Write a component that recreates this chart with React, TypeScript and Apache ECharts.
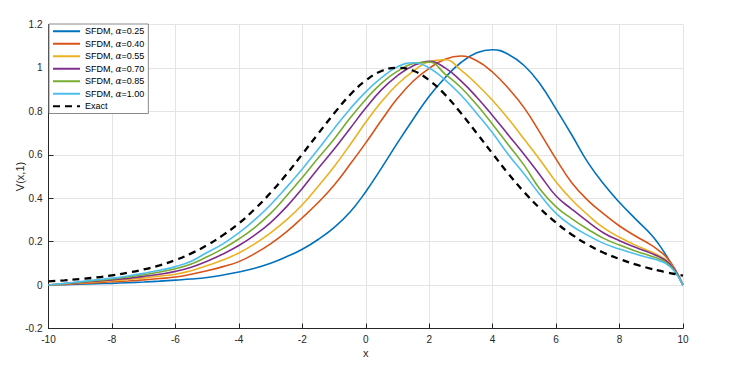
import { useEffect, useRef } from "react";
import * as echarts from "echarts";

const X = [
  -10, -9.5, -9, -8.5, -8, -7.5, -7, -6.5, -6, -5.5, -5, -4.5, -4, -3.5, -3, -2.5, -2, -1.5, -1, -0.5,
  0, 0.5, 1, 1.5, 2, 2.5, 3, 3.5, 4, 4.5, 5, 5.5, 6, 6.5, 7, 7.5, 8, 8.5, 9, 9.25, 9.5, 9.75, 10,
];

const A025 = [
  0, 0.002, 0.004, 0.006, 0.008, 0.011, 0.014, 0.018, 0.023, 0.028, 0.035, 0.046, 0.06, 0.077, 0.1, 0.13,
  0.165, 0.21, 0.265, 0.335, 0.43, 0.54, 0.655, 0.765, 0.87, 0.955, 1.025, 1.07, 1.084, 1.062, 1.01, 0.925,
  0.81, 0.69, 0.565, 0.465, 0.38, 0.305, 0.232, 0.185, 0.13, 0.068, 0,
];
const A040 = [
  0, 0.003, 0.007, 0.011, 0.015, 0.019, 0.024, 0.03, 0.037, 0.05, 0.066, 0.085, 0.108, 0.145, 0.19, 0.245,
  0.31, 0.38, 0.46, 0.555, 0.655, 0.76, 0.86, 0.94, 0.998, 1.04, 1.055, 1.033, 0.98, 0.905, 0.815, 0.7,
  0.58, 0.47, 0.39, 0.328, 0.272, 0.226, 0.184, 0.158, 0.125, 0.073, 0,
];
const A055 = [
  0, 0.005, 0.01, 0.015, 0.02, 0.026, 0.033, 0.041, 0.05, 0.066, 0.09, 0.115, 0.148, 0.19, 0.24, 0.3,
  0.37, 0.455, 0.545, 0.645, 0.75, 0.845, 0.925, 0.985, 1.03, 1.038, 0.99, 0.925, 0.85, 0.765, 0.67, 0.575,
  0.475, 0.392, 0.323, 0.263, 0.22, 0.184, 0.153, 0.135, 0.112, 0.07, 0,
];
const A070 = [
  0, 0.006, 0.012, 0.018, 0.024, 0.031, 0.04, 0.05, 0.063, 0.082, 0.11, 0.143, 0.182, 0.23, 0.288, 0.36,
  0.445, 0.537, 0.625, 0.72, 0.815, 0.9, 0.965, 1.01, 1.03, 1.0, 0.94, 0.865, 0.78, 0.69, 0.6, 0.505,
  0.41, 0.349, 0.292, 0.24, 0.204, 0.174, 0.146, 0.13, 0.108, 0.068, 0,
];
const A085 = [
  0, 0.007, 0.014, 0.021, 0.028, 0.037, 0.048, 0.06, 0.075, 0.097, 0.13, 0.168, 0.212, 0.265, 0.33, 0.41,
  0.495, 0.585, 0.672, 0.768, 0.855, 0.93, 0.985, 1.02, 1.027, 0.972, 0.91, 0.83, 0.74, 0.645, 0.55, 0.44,
  0.36, 0.305, 0.257, 0.215, 0.184, 0.157, 0.133, 0.12, 0.1, 0.063, 0,
];
const A100 = [
  0, 0.008, 0.016, 0.024, 0.032, 0.042, 0.054, 0.068, 0.085, 0.11, 0.15, 0.19, 0.24, 0.3, 0.37, 0.45,
  0.535, 0.625, 0.72, 0.81, 0.89, 0.955, 1.005, 1.024, 1.0, 0.945, 0.875, 0.79, 0.7, 0.6, 0.51, 0.415,
  0.33, 0.272, 0.229, 0.192, 0.166, 0.143, 0.123, 0.112, 0.095, 0.06, 0,
];
const EXACT = [
  0.017, 0.022, 0.028, 0.035, 0.045, 0.057, 0.072, 0.091, 0.115, 0.146, 0.184, 0.23, 0.284, 0.35, 0.425, 0.51,
  0.603, 0.697, 0.79, 0.875, 0.942, 0.986, 1.0, 0.987, 0.943, 0.877, 0.792, 0.699, 0.605, 0.512, 0.427, 0.352,
  0.287, 0.232, 0.186, 0.149, 0.12, 0.095, 0.075, 0.066, 0.058, 0.051, 0.044,
];

const SFDM_NAMES = [
  "SFDM, α=0.25",
  "SFDM, α=0.40",
  "SFDM, α=0.55",
  "SFDM, α=0.70",
  "SFDM, α=0.85",
  "SFDM, α=1.00",
];
const EXACT_NAME = "Exact";
const COLORS = ["#0072BD", "#D95319", "#EDB120", "#7E2F8E", "#77AC30", "#4DBEEE"];

const FONT = "'Liberation Sans', Arial, Helvetica, sans-serif";
const AXIS_COLOR = "#262626";

export default function App() {
  const ref = useRef<HTMLDivElement>(null);

  useEffect(() => {
    const chart = echarts.init(ref.current!, null, { renderer: "svg" });
    const sfdm = [A025, A040, A055, A070, A085, A100];
    const series: any[] = sfdm.map((vals, i) => ({
      name: SFDM_NAMES[i],
      type: "line",
      data: X.map((x, j) => [x, vals[j]]),
      symbol: "none",
      showSymbol: false,
      smooth: 0.45,
      lineStyle: { color: COLORS[i], width: 1.6 },
      itemStyle: { color: COLORS[i] },
      z: 2,
    }));
    series.push({
      name: EXACT_NAME,
      type: "line",
      data: X.map((x, j) => [x, EXACT[j]]),
      symbol: "none",
      showSymbol: false,
      smooth: 0.45,
      lineStyle: { color: "#000000", width: 2.3, type: [7, 5] },
      itemStyle: { color: "#000000" },
      z: 3,
    });

    chart.setOption({
      animation: false,
      backgroundColor: "#ffffff",
      textStyle: { fontFamily: FONT },
      grid: { left: 48.5, right: 47, top: 24.5, bottom: 39.5, containLabel: false },
      xAxis: {
        type: "value",
        min: -10,
        max: 10,
        interval: 2,
        name: "x",
        nameLocation: "middle",
        nameGap: 19,
        nameMoveOverlap: false,
        nameTextStyle: { fontSize: 11, color: AXIS_COLOR, fontFamily: FONT },
        axisLine: { onZero: false, lineStyle: { color: AXIS_COLOR, width: 1 } },
        axisTick: { inside: true, length: 5, lineStyle: { color: AXIS_COLOR } },
        axisLabel: { color: AXIS_COLOR, fontSize: 10, margin: 6, fontFamily: FONT },
        splitLine: { show: true, lineStyle: { color: "#e4e4e4", width: 1 } },
      },
      yAxis: {
        type: "value",
        min: -0.2,
        max: 1.2,
        interval: 0.2,
        name: "V(x,1)",
        nameLocation: "middle",
        nameGap: 23,
        nameMoveOverlap: false,
        nameTextStyle: { fontSize: 11, color: AXIS_COLOR, fontFamily: FONT },
        axisLine: { onZero: false, lineStyle: { color: AXIS_COLOR, width: 1 } },
        axisTick: { inside: true, length: 5, lineStyle: { color: AXIS_COLOR } },
        axisLabel: { color: AXIS_COLOR, fontSize: 10, margin: 6, fontFamily: FONT },
        splitLine: { show: true, lineStyle: { color: "#e4e4e4", width: 1 } },
      },
      legend: {
        orient: "vertical",
        left: 49,
        top: 24,
        padding: [1, 4, 1, 3],
        backgroundColor: "#ffffff",
        borderColor: "#8a8a8a",
        borderWidth: 1,
        borderRadius: 0,
        itemWidth: 27,
        itemHeight: 8,
        itemGap: 0,
        itemStyle: { opacity: 0 },
        data: [...SFDM_NAMES, EXACT_NAME],
        formatter: (n: string) => n.replace("α", "{a|α}"),
        textStyle: {
          fontFamily: FONT,
          fontSize: 9,
          color: "#000000",
          lineHeight: 12.5,
          rich: {
            a: { fontFamily: "'DejaVu Serif', serif", fontStyle: "italic", fontSize: 9, lineHeight: 12.5, color: "#000000" },
          },
        },
      },
      series,
    });

    return () => chart.dispose();
  }, []);

  return (
    <div
      ref={ref}
      style={{ position: "absolute", left: 0, top: 0, width: 730, height: 368 }}
    />
  );
}
